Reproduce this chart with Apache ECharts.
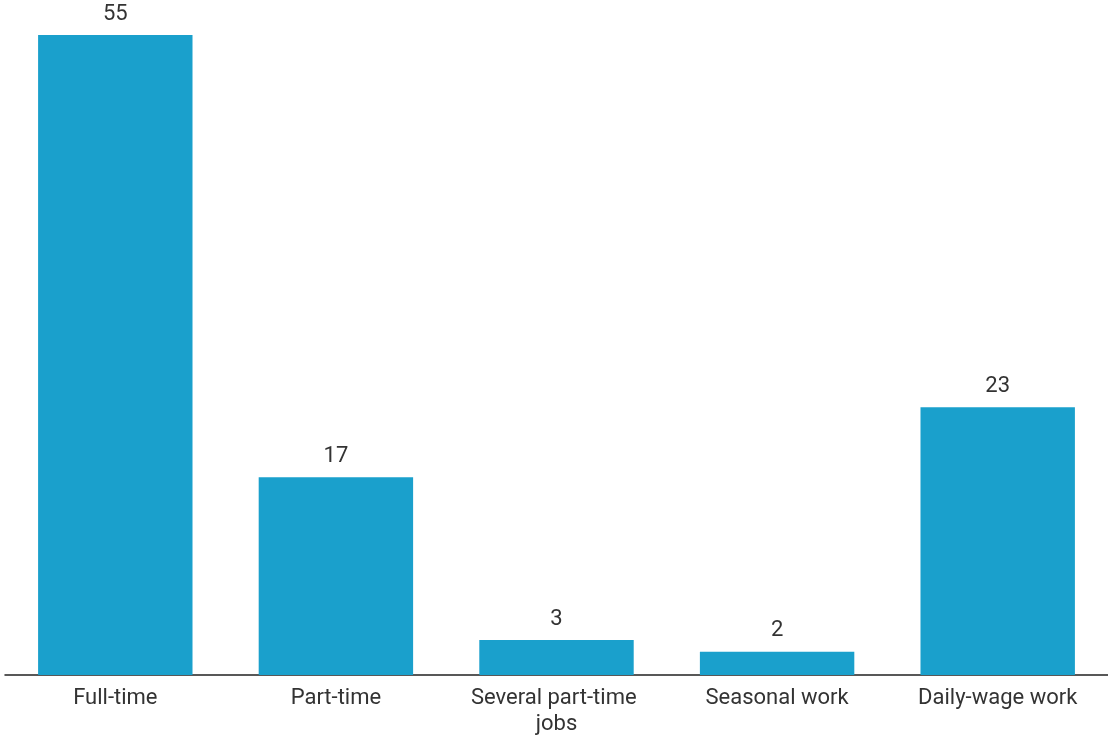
<!DOCTYPE html>
<html>
<head>
<meta charset="utf-8">
<script src="https://cdn.jsdelivr.net/npm/echarts@6/dist/echarts.min.js"></script>
<style>html,body{margin:0;padding:0;background:#fff;}#c{width:1108px;height:735px;}</style>
</head>
<body>
<div id="c"></div>
<script>
const categories = ['Full-time', 'Part-time', 'Several part-time jobs', 'Seasonal work', 'Daily-wage work'];
const values = [55, 17, 3, 2, 23];

const chart = echarts.init(document.getElementById('c'), null, {renderer: 'canvas'});
chart.setOption({
  animation: false,
  backgroundColor: '#ffffff',
  grid: {left: 5, right: 0, top: 35, bottom: 60, containLabel: false, outerBoundsMode: 'none'},
  xAxis: {
    type: 'category',
    data: categories,
    axisLine: {show: true, lineStyle: {color: '#222', width: 1.5}},
    axisTick: {show: false},
    axisLabel: {
      color: '#333', fontFamily: 'Roboto', fontSize: 22, margin: 10,
      width: 185, overflow: 'break', lineHeight: 26, interval: 0
    }
  },
  yAxis: {
    type: 'value', min: 0, max: 55,
    show: false, splitLine: {show: false}
  },
  series: [{
    type: 'bar',
    data: values,
    barCategoryGap: '30%',
    itemStyle: {color: '#1aa0cc'},
    label: {
      show: true, position: 'top', distance: 10,
      color: '#333', fontFamily: 'Roboto', fontSize: 22
    }
  }]
});
</script>
</body>
</html>
